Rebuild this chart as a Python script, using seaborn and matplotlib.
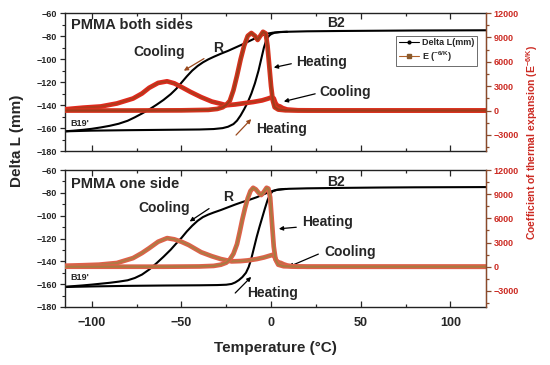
import numpy as np
import pandas as pd
import seaborn as sns
import matplotlib.pyplot as plt
from matplotlib.lines import Line2D
from matplotlib.ticker import MultipleLocator

# ---- PMMA both sides (top panel) ----
top_heat_T = [-115, -100, -80, -60, -40, -32, -27, -24, -21, -19, -17, -15, -13, -11, -9, -7, -5.5, -4, -3, -2, -1, 0, 2, 5, 9, 20, 40, 60, 80, 100, 120]
top_heat_L = [-162.8, -162.2, -161.8, -161.5, -161.2, -160.8, -160, -158.8, -156.5, -153.5, -149, -143.5, -137.5, -130, -121, -110, -100, -90, -85, -81.5, -79.5, -78.3, -77, -76.4, -76.2, -75.8, -75.5, -75.3, -75.1, -75.0, -74.9]
top_cool_T = [-115, -110, -105, -100, -95, -90, -85, -80, -76, -72, -68, -64, -60, -56, -53, -50, -47, -44, -41, -38, -35, -32, -28, -24, -20, -16, -12, -8, -5, -2, 1, 5, 9]
top_cool_L = [-162.8, -162.2, -161.5, -160.6, -159.4, -158, -156.2, -153.6, -150.6, -147.3, -143.8, -139.8, -135.5, -130.5, -126, -120.5, -115, -110, -106, -102.8, -100.2, -98, -95.3, -92.8, -90, -87.2, -84.2, -81.2, -79.2, -77.8, -77, -76.5, -76.2]

top_Eheat_T = [-115, -80, -50, -35, -30, -27, -25, -23, -21, -19, -17, -15, -13, -11, -9, -7.5, -6, -4.5, -3, -2, -1, 0, 1, 2, 4, 8, 20, 60, 120]
top_Eheat = [0, 0, 20, 80, 200, 400, 700, 1200, 2500, 4300, 6300, 8000, 9200, 9550, 9200, 8700, 9200, 9700, 9500, 8000, 5500, 3000, 1200, 400, 120, 30, 0, 0, 0]
top_Ecool_T = [-115, -105, -95, -86, -77, -72, -68, -63, -58, -54, -50, -45, -39, -33, -28, -25, -20, -15, -10, -5, -2, 0, 1.5, 2.5, 3.5, 5, 6.5, 9, 15, 40, 120]
top_Ecool = [150, 350, 500, 870, 1480, 2100, 2800, 3400, 3600, 3350, 2900, 2300, 1650, 1100, 830, 650, 750, 900, 1050, 1250, 1450, 1600, 1500, 900, 600, 500, 300, 120, 30, 0, 0]

# ---- PMMA one side (bottom panel) ----
bot_heat_T = [-115, -100, -80, -60, -40, -30, -25, -22, -20, -18, -16, -14, -12.5, -11, -9.5, -8, -6.5, -5, -3.5, -2, -0.5, 1, 3, 6, 10, 20, 40, 60, 80, 100, 120]
bot_heat_L = [-162.5, -162, -161.5, -161.2, -161, -160.8, -160.5, -159.8, -158.5, -156.5, -153.8, -150, -145, -137.5, -128, -118.5, -110, -102, -94, -86.5, -81, -78.5, -77.3, -76.8, -76.4, -76, -75.6, -75.3, -75.1, -75, -74.9]
bot_cool_T = [-115, -110, -105, -100, -95, -90, -85, -80, -76, -72, -68, -64, -60, -56, -53, -50, -47, -44, -41, -38, -35, -32, -28, -24, -20, -16, -12, -8, -5, -2, 1, 4, 8]
bot_cool_L = [-162.3, -161.7, -161.1, -160.4, -159.6, -158.8, -157.8, -156.6, -154.6, -151.6, -147.2, -141.8, -136, -129.8, -124.5, -119.5, -113.8, -108.8, -104.5, -101.2, -99, -97.2, -95, -92.6, -90.2, -88, -86, -83.8, -81.8, -79.8, -78.2, -77.2, -76.5]

bot_Eheat_T = [-115, -60, -40, -32, -28, -25, -23, -21, -19, -17.5, -16, -14.5, -13, -11.5, -10, -8.5, -7, -5.5, -4, -2.5, -1.5, -0.5, 0.5, 1.5, 2.5, 4, 7, 15, 120]
bot_Eheat = [0, 0, 30, 100, 250, 500, 900, 1600, 2800, 4300, 5900, 7300, 8500, 9400, 9800, 9600, 9200, 8900, 9300, 9800, 9700, 8600, 5500, 2500, 900, 250, 60, 0, 0]
bot_Ecool_T = [-115, -105, -96, -86, -77, -72, -68, -63, -58, -54, -50, -46, -39, -33, -28, -22, -17, -13, -8, -4, -1, 1, 2, 3, 4, 5.5, 7, 9, 12, 20, 120]
bot_Ecool = [120, 180, 250, 460, 1070, 1700, 2300, 3100, 3550, 3400, 3100, 2700, 1800, 1300, 950, 660, 700, 780, 950, 1150, 1350, 1480, 1200, 750, 550, 460, 300, 150, 50, 0, 0]

sns.set_style('ticks')
plt.rcParams['font.family'] = ['Liberation Sans', 'DejaVu Sans']
plt.rcParams['font.weight'] = 'bold'
plt.rcParams['mathtext.fontset'] = 'custom'
plt.rcParams['mathtext.rm'] = 'Liberation Sans:bold'
plt.rcParams['mathtext.it'] = 'Liberation Sans:bold'
plt.rcParams['mathtext.bf'] = 'Liberation Sans:bold'

RED_TXT = '#cc2a22'
RED_AX = '#8b4a2b'

fig = plt.figure(figsize=(5.5, 3.65), dpi=100)
ax_top = fig.add_axes([0.118, 0.586, 0.766, 0.378])
ax_bot = fig.add_axes([0.118, 0.159, 0.766, 0.375])


def style_axes(ax, ax2, show_x):
    ax.set_xlim(-115, 120)
    ax.set_ylim(-180, -60)
    ax2.set_ylim(-5000, 12000)
    ax.xaxis.set_major_locator(MultipleLocator(50))
    ax.xaxis.set_minor_locator(MultipleLocator(25))
    ax.yaxis.set_major_locator(MultipleLocator(20))
    ax.yaxis.set_minor_locator(MultipleLocator(10))
    ax.tick_params(axis='x', which='both', direction='in', top=True, bottom=True,
                   labelbottom=show_x, labelsize=9, pad=7, width=0.9)
    ax.tick_params(axis='x', which='major', length=4)
    ax.tick_params(axis='x', which='minor', length=2.5)
    ax.tick_params(axis='y', which='major', direction='out', length=3.5, labelsize=6.5, pad=2, width=0.9)
    ax.tick_params(axis='y', which='minor', direction='out', length=2, width=0.8)
    ax2.set_yticks([-3000, 0, 3000, 6000, 9000, 12000])
    ax2.yaxis.set_minor_locator(MultipleLocator(1500))
    ax2.tick_params(axis='y', which='both', colors=RED_AX, labelcolor=RED_TXT, labelsize=6.5, pad=2, width=0.9)
    ax2.tick_params(axis='y', which='major', length=3.5)
    ax2.tick_params(axis='y', which='minor', length=2)
    for s in ['left', 'bottom', 'top']:
        ax.spines[s].set_linewidth(1.0)
        ax.spines[s].set_color('#222222')
    ax2.spines['right'].set_color(RED_AX)
    ax2.spines['right'].set_linewidth(1.0)
    ax2.spines['left'].set_visible(False)
    ax2.spines['top'].set_visible(False)
    ax2.spines['bottom'].set_visible(False)
    ax.set_xlabel('')
    ax.set_ylabel('')
    ax2.set_ylabel('')


def draw_line(ax, t, v, color, lw):
    sns.lineplot(x=t, y=v, ax=ax, color=color, linewidth=lw, sort=False,
                 estimator=None, legend=False)


def draw_E(ax, t, v, outer, inner):
    draw_line(ax, t, v, outer, 3.4)
    draw_line(ax, t, v, inner, 1.5)


def arrow(ax, xy, xytext, color):
    ax.annotate('', xy=xy, xytext=xytext,
                arrowprops=dict(arrowstyle='-|>', color=color, lw=0.9, mutation_scale=6))


# top panel
ax2_top = ax_top.twinx()
draw_line(ax_top, top_heat_T, top_heat_L, 'black', 1.5)
draw_line(ax_top, top_cool_T, top_cool_L, 'black', 1.5)
draw_E(ax2_top, top_Ecool_T, top_Ecool, '#e3281d', '#b23a1c')
draw_E(ax2_top, top_Eheat_T, top_Eheat, '#d8321e', '#9e3d1a')
style_axes(ax_top, ax2_top, False)

# bottom panel
ax2_bot = ax_bot.twinx()
draw_line(ax_bot, bot_heat_T, bot_heat_L, 'black', 1.5)
draw_line(ax_bot, bot_cool_T, bot_cool_L, 'black', 1.5)
draw_E(ax2_bot, bot_Ecool_T, bot_Ecool, '#e0604a', '#b07a44')
draw_E(ax2_bot, bot_Eheat_T, bot_Eheat, '#e0604a', '#a97a40')
style_axes(ax_bot, ax2_bot, True)

brown = '#9a4a1e'
fs = 10
# top annotations
ax_top.text(-111.7, -70.4, 'PMMA both sides', fontsize=10.5, fontweight='bold', ha='left', va='center')
ax_top.text(-62.5, -93.9, 'Cooling', fontsize=fs, fontweight='bold', ha='center', va='center')
ax_top.text(-29.4, -90.4, 'R', fontsize=fs, fontweight='bold', ha='center', va='center')
arrow(ax_top, (-50, -111.3), (-36.1, -98.3), brown)
ax_top.text(36.1, -68.7, 'B2', fontsize=fs, fontweight='bold', ha='center', va='center')
ax_top.text(28.3, -102.6, 'Heating', fontsize=fs, fontweight='bold', ha='center', va='center')
arrow(ax_top, (0, -107.8), (12.8, -103.5), 'black')
ax_top.text(41.4, -128.7, 'Cooling', fontsize=fs, fontweight='bold', ha='center', va='center')
arrow(ax_top, (5.6, -137.4), (26.1, -129.6), 'black')
ax_top.text(5.6, -160.9, 'Heating', fontsize=fs, fontweight='bold', ha='center', va='center')
arrow(ax_top, (-10, -150.4), (-20.6, -167.8), brown)
ax_top.text(-111.7, -155.7, "B19'", fontsize=6.5, fontweight='bold', ha='left', va='center')

# bottom annotations
ax_bot.text(-111.7, -72.3, 'PMMA one side', fontsize=10.5, fontweight='bold', ha='left', va='center')
ax_bot.text(-59.7, -93.3, 'Cooling', fontsize=fs, fontweight='bold', ha='center', va='center')
arrow(ax_bot, (-46.7, -106.4), (-33.3, -92.4), 'black')
ax_bot.text(-23.9, -83.6, 'R', fontsize=fs, fontweight='bold', ha='center', va='center')
ax_bot.text(36.1, -70.5, 'B2', fontsize=fs, fontweight='bold', ha='center', va='center')
ax_bot.text(31.4, -105.5, 'Heating', fontsize=fs, fontweight='bold', ha='center', va='center')
arrow(ax_bot, (2.8, -111.7), (15.6, -109.9), 'black')
ax_bot.text(44.2, -131.8, 'Cooling', fontsize=fs, fontweight='bold', ha='center', va='center')
arrow(ax_bot, (8.3, -145.8), (27.8, -132.7), 'black')
ax_bot.text(0.8, -167.7, 'Heating', fontsize=fs, fontweight='bold', ha='center', va='center')
arrow(ax_bot, (-10, -151.9), (-21.1, -169.5), 'black')
ax_bot.text(-111.7, -154.6, "B19'", fontsize=6.5, fontweight='bold', ha='left', va='center')

# legend
handles = [Line2D([0], [0], color='black', lw=0.8, marker='o', markersize=2),
           Line2D([0], [0], color='#b0602a', lw=0.8, marker='s', markersize=2.5,
                  markerfacecolor='#8b5a2b', markeredgecolor='#8b5a2b')]
leg = ax2_top.legend(handles, ['Delta L(mm)', r'E ($^{-6/K}$)'], loc='upper right',
                     bbox_to_anchor=(0.99, 0.87), fontsize=6.5, frameon=True, fancybox=False,
                     edgecolor='#555555', framealpha=1, handlelength=2.2, borderpad=0.3,
                     labelspacing=0.2, handletextpad=0.4)
leg.get_frame().set_linewidth(0.6)

# shared labels
fig.text(0.031, 1 - 141 / 365, 'Delta L (mm)', rotation=90, fontsize=11, fontweight='bold',
         ha='center', va='center')
fig.text(0.5, 1 - 348 / 365, 'Temperature (\u00b0C)', fontsize=11, fontweight='bold',
         ha='center', va='center')
fig.text(532 / 550, 1 - 143 / 365, r'Coefficient of thermal expansion (E$^{-6/K}$)', rotation=90,
         fontsize=7.5, fontweight='bold', color=RED_TXT, ha='center', va='center')

fig.savefig('out.png', dpi=100)
